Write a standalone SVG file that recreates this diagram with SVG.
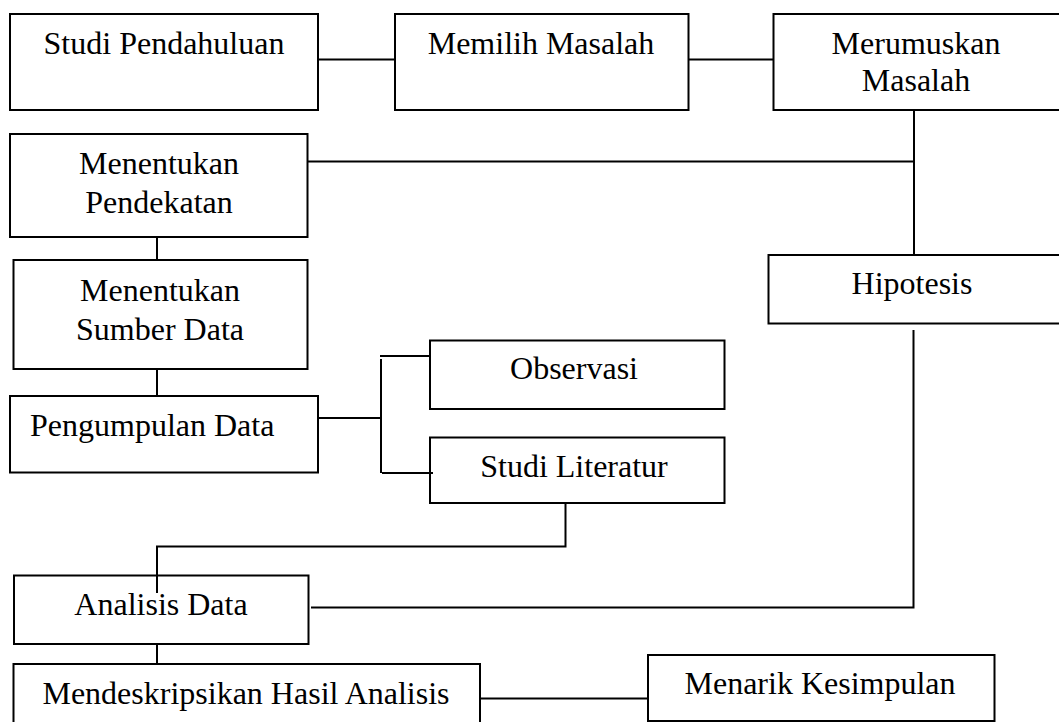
<svg xmlns="http://www.w3.org/2000/svg" width="1059" height="722" viewBox="0 0 1059 722">
<style>
.box{fill:#fff;stroke:#000;stroke-width:2}
.ln{fill:none;stroke:#000;stroke-width:2}
text{font-family:"Liberation Serif","Times New Roman",serif;font-size:32px;fill:#000;text-anchor:middle}
</style>
<rect width="1059" height="722" fill="#fff"/>
<g id="n1"><rect class="box" x="10" y="14" width="308" height="96"/><text x="164" y="54">Studi Pendahuluan</text></g>
<g id="n2"><rect class="box" x="395" y="14" width="293.5" height="96"/><text x="541" y="54">Memilih Masalah</text></g>
<g id="n3"><rect class="box" x="773.5" y="14" width="290" height="96"/><text x="916" y="54">Merumuskan</text><text x="916" y="91">Masalah</text></g>
<g id="n4"><rect class="box" x="10" y="134" width="297.5" height="103"/><text x="159" y="174">Menentukan</text><text x="159" y="213">Pendekatan</text></g>
<g id="n5"><rect class="box" x="13.5" y="260" width="294" height="109"/><text x="160" y="301">Menentukan</text><text x="160" y="340">Sumber Data</text></g>
<g id="n6"><rect class="box" x="10" y="396" width="308" height="76.5"/><text x="30" y="436" style="text-anchor:start">Pengumpulan Data</text></g>
<g id="n7"><rect class="box" x="430" y="340.5" width="294.5" height="68.5"/><text x="574" y="378.5">Observasi</text></g>
<g id="n8"><rect class="box" x="430" y="437.5" width="294.5" height="65.5"/><text x="574" y="476.5">Studi Literatur</text></g>
<g id="n9"><rect class="box" x="768.5" y="255" width="295" height="68.5"/><text x="912" y="294">Hipotesis</text></g>
<g id="n10"><rect class="box" x="14" y="575.5" width="294.5" height="68.5"/><text x="161" y="615">Analisis Data</text></g>
<g id="n11"><rect class="box" x="13.5" y="664" width="466.5" height="70"/><text x="246" y="704">Mendeskripsikan Hasil Analisis</text></g>
<g id="n12"><rect class="box" x="648" y="655" width="346.5" height="66"/><text x="820" y="694">Menarik Kesimpulan</text></g>
<g id="connectors">
<path class="ln" d="M318 59.5H395"/>
<path class="ln" d="M688.5 59.5H773.5"/>
<path class="ln" d="M914 110V255"/>
<path class="ln" d="M307.5 161.5H914"/>
<path class="ln" d="M157 237V260"/>
<path class="ln" d="M157 369V396"/>
<path class="ln" d="M318 418H381"/>
<path class="ln" d="M381 359V473"/>
<path class="ln" d="M380 356H430"/>
<path class="ln" d="M382 473H433"/>
<path class="ln" d="M565.5 503V546.5H157V593"/>
<path class="ln" d="M311 607.5H913.5V330"/>
<path class="ln" d="M157 644V664"/>
<path class="ln" d="M480 698.5H648"/>
</g>
</svg>
